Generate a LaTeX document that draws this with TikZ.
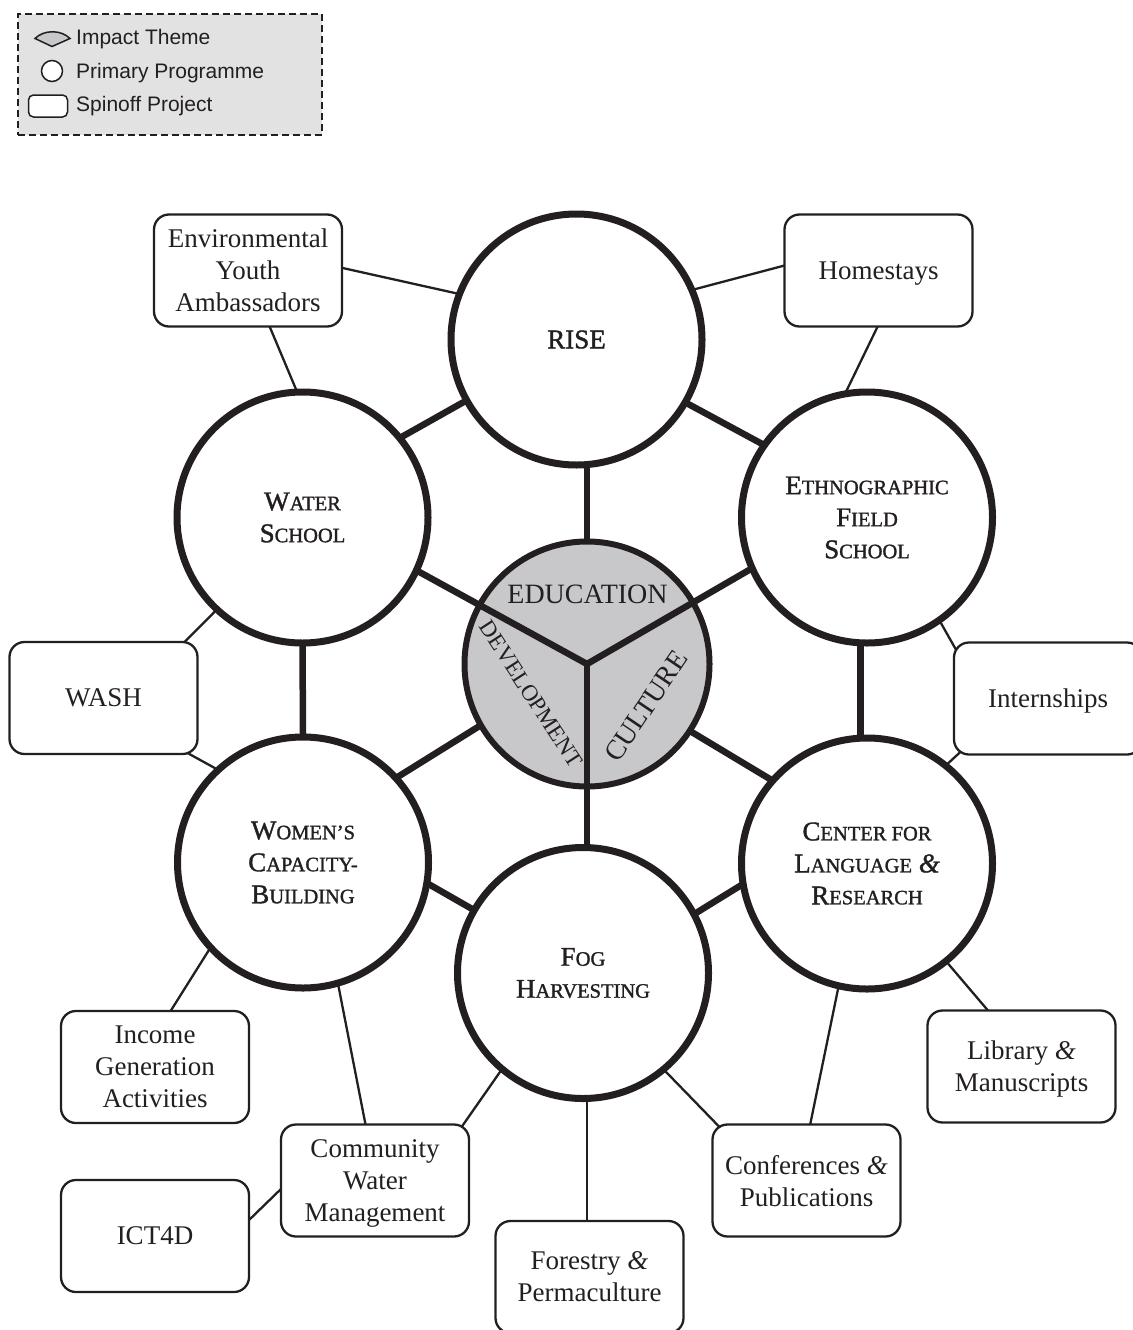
\documentclass[tikz,border=0pt]{standalone}
\usepackage{fontspec}
\setmainfont{Liberation Serif}
\newfontfamily\legendfont{Liberation Sans}
\newfontfamily\progfont{Liberation Serif}[FakeBold=1.4]
\usetikzlibrary{calc,backgrounds}
\definecolor{ink}{RGB}{35,31,32}
\definecolor{coregray}{RGB}{200,200,202}
\definecolor{legendgray}{RGB}{226,226,227}
\newcommand{\smc}[1]{{\fontsize{20.5}{32}\selectfont #1}}
\newcommand{\amp}{\textit{\&}}
\begin{document}
\begin{tikzpicture}[x=1pt,y=-1pt,
  prog/.style={circle, draw=ink, line width=7pt, fill=white, minimum size=251pt, inner sep=0pt, align=center, text=ink, font=\progfont\fontsize{27}{32}\selectfont},
  spin/.style={rectangle, rounded corners=15pt, draw=ink, line width=2.3pt, fill=white, minimum width=188pt, minimum height=112pt, inner sep=0pt, align=center, text=ink, text depth=0pt, font=\fontsize{27}{32}\selectfont},
  core/.style={circle, draw=ink, line width=6pt, fill=coregray, minimum size=245pt, inner sep=0pt},
  thick link/.style={draw=ink, line width=6.5pt},
  thin link/.style={draw=ink, line width=2.3pt},
  theme/.style={text=ink, inner sep=0pt, font=\fontsize{28}{28}\selectfont},
  legtext/.style={anchor=base west, inner sep=0pt, text=ink, font=\legendfont\fontsize{21}{21}\selectfont},
]
\useasboundingbox (0,0) rectangle (1132,1330);

% legend
\node[draw=ink, line width=2pt, dash pattern=on 7pt off 4pt, fill=legendgray, minimum width=304pt, minimum height=121pt, inner sep=0pt] (legend) at (170,74.5) {};
\filldraw[fill=coregray, draw=ink, line width=1.5pt] (35,38.5) .. controls (44,29.5) and (61,29.5) .. (70,38.5) -- (52,46.5) -- cycle;
\draw[ink, line width=1.5pt, fill=white] (52,71) circle[radius=10.5];
\draw[ink, line width=1.5pt, fill=white, rounded corners=5pt] (28.5,95) rectangle (67.5,117);
\node[legtext] (l1) at (76,45) {Impact Theme};
\node[legtext] (l2) at (76,78) {Primary Programme};
\node[legtext] (l3) at (76,111) {Spinoff Project};

% primary programmes
\node[prog] (rise) at (576.5,339.5) {RISE};
\node[prog] (water) at (302.5,517.5) {W\smc{ATER}\\S\smc{CHOOL}};
\node[prog] (ethno) at (867,517.5) {E\smc{THNOGRAPHIC}\\F\smc{IELD}\\S\smc{CHOOL}};
\node[prog] (women) at (303,862.5) {W\smc{OMEN’S}\\C\smc{APACITY-}\\B\smc{UILDING}};
\node[prog] (clr) at (867,863.5) {C\smc{ENTER FOR}\\L\smc{ANGUAGE} \amp\\R\smc{ESEARCH}};
\node[prog] (fog) at (583,973) {F\smc{OG}\\H\smc{ARVESTING}};

% spinoff projects
\node[spin] (eya) at (248,270.5) {Environmental\\Youth\\Ambassadors};
\node[spin] (home) at (878.5,270.5) {Homestays};
\node[spin] (wash) at (103.5,698) {WASH};
\node[spin] (intern) at (1048,698.5) {Internships};
\node[spin] (income) at (155,1067) {Income\\Generation\\Activities};
\node[spin] (lib) at (1021.5,1066.5) {Library \amp\\Manuscripts};
\node[spin] (comm) at (375,1180.5) {Community\\Water\\Management};
\node[spin] (ict) at (155,1236) {ICT4D};
\node[spin] (conf) at (806.5,1180.5) {Conferences \amp\\Publications};
\node[spin] (forest) at (589.5,1277) {Forestry \amp\\Permaculture};

\begin{pgfonlayer}{background}
\node[core] (core) at (587,664) {};
% spokes from the core
\draw[thick link, line join=round, shorten <=-8pt, shorten >=-8pt] (water.-25) -- (core.center) -- (ethno.204);
\draw[thick link, shorten >=-8pt] (core.center) -- (core.center |- fog.center);
\draw[thick link, shorten <=-3pt] (core.north) -- (core.north |- rise.center);
\draw[thick link, shorten <=-3pt, shorten >=-8pt] (core.210) -- (women.42);
\draw[thick link, shorten <=-3pt, shorten >=-8pt] (core.-33) -- (clr.139);
% ring
\draw[thick link, shorten <=-8pt, shorten >=-8pt] (rise.209) -- (water.39);
\draw[thick link, shorten <=-8pt, shorten >=-8pt] (rise.-30) -- (ethno.145);
\draw[thick link, shorten <=-8pt, shorten >=-8pt] (water.south) -- (women.north);
\draw[thick link, shorten <=-8pt, shorten >=-8pt] (ethno.-93) -- (clr.93);
\draw[thick link, shorten <=-8pt, shorten >=-8pt] (women.-10) -- (fog.150);
\draw[thick link, shorten <=-8pt, shorten >=-8pt] (clr.190) -- (fog.28);
% spinoff links
\draw[thin link, shorten >=-5pt] ($(eya.east)+(-5,-3.5)$) -- (rise.159);
\draw[thin link, shorten >=-5pt] ($(eya.south)+(20,-5)$) -- (water.93);
\draw[thin link, shorten >=-5pt] ($(home.west)+(5,-6)$) -- (rise.23);
\draw[thin link, shorten >=-5pt] ($(home.south)+(1,-5)$) -- (ethno.99);
\draw[thin link, shorten >=-5pt] ($(wash.north east)+(-25,12)$) -- (water.227);
\draw[thin link, shorten >=-5pt] ($(wash.south east)+(-29,-12)$) -- (women.133);
\draw[thin link, shorten >=-5pt] ($(intern.north west)+(12,24)$) -- (ethno.-55);
\draw[thin link, shorten >=-5pt] ($(intern.south west)+(22,-17)$) -- (clr.51);
\draw[thin link, shorten >=-5pt] ($(income.north)+(5,18)$) -- (women.223);
\draw[thin link, shorten >=-5pt] ($(comm.north)+(-6,19)$) -- (women.-74);
\draw[thin link, shorten >=-5pt] ($(comm.north east)+(-20,20)$) -- (fog.230);
\draw[thin link] ($(ict.east)+(-14,-3.5)$) -- ($(comm.west)+(15,-5)$);
\draw[thin link] (core.center |- fog.center) -- (core.center |- forest.center);
\draw[thin link, shorten >=-5pt] ($(conf.north west)+(24,20)$) -- (fog.-50);
\draw[thin link, shorten >=-5pt] ($(conf.north)+(0,19)$) -- (clr.-103);
\draw[thin link, shorten >=-5pt] ($(lib.north)+(-17.5,20)$) -- (clr.-51);
\end{pgfonlayer}

% impact themes
\node[theme] (edu) at (587.5,594) {EDUCATION};
\node[theme, rotate=-57, font=\fontsize{23}{23}\selectfont] (dev) at (531,694) {DEVELOPMENT};
\node[theme, rotate=56] (cul) at (646,706) {CULTURE};
\end{tikzpicture}
\end{document}
